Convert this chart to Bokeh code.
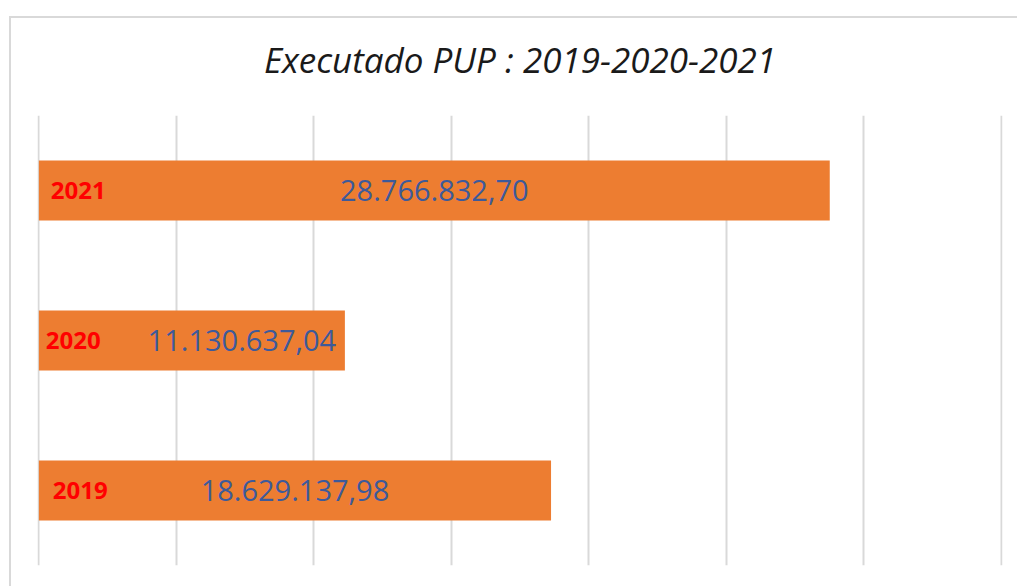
from bokeh.plotting import figure
from bokeh.models import ColumnDataSource, FactorRange, Range1d, FixedTicker
from bokeh.core.properties import value
from bokeh.embed import file_html
from bokeh.resources import INLINE

# ---- data ----
years = ["2019", "2020", "2021"]
values = [18629137.98, 11130637.04, 28766832.70]
value_labels = ["18.629.137,98", "11.130.637,04", "28.766.832,70"]
x_ticks = [0, 5e6, 10e6, 15e6, 20e6, 25e6, 30e6, 35e6]
title_text = "Executado PUP : 2019-2020-2021"

# ---- styling (pixel offsets for labels) ----
year_dx = [14, 7, 12]
value_dx = [0, 50, 0]

FONT = "Open Sans"
BORDER = "#D9D9D9"

src = ColumnDataSource(dict(
    year=years,
    val=values,
    half=[v / 2 for v in values],
    zero=[0] * len(values),
    vlab=value_labels,
    ydx=year_dx,
    vdx=value_dx,
))

pad = 0.05e6
p = figure(
    width=1017, height=586,
    y_range=FactorRange(factors=years, range_padding=0),
    x_range=Range1d(x_ticks[0] - pad, x_ticks[-1] + pad),
    output_backend="svg",
    toolbar_location=None,
    min_border_left=37, min_border_right=15,
    min_border_top=115, min_border_bottom=21,
)
# chart-area border (left and top edges visible) drawn behind a transparent canvas
p.border_fill_color = None
p.background_fill_color = "white"
p.styles = {
    "background": (
        f"linear-gradient({BORDER},{BORDER}) 9px 16px / 2px 570px no-repeat, "
        f"linear-gradient({BORDER},{BORDER}) 9px 16px / 1008px 2px no-repeat, "
        "#ffffff"
    ),
}

p.title.text = title_text
p.title.align = "center"
p.title.text_font = FONT
p.title.text_font_style = "italic"
p.title.text_font_size = "35px"
p.title.text_color = "#1a1a1a"
p.title.standoff = 66

p.xaxis.visible = False
p.yaxis.visible = False
p.ygrid.grid_line_color = None
p.xgrid.ticker = FixedTicker(ticks=x_ticks)
p.xgrid.grid_line_color = "#D9D9D9"
p.xgrid.grid_line_width = 2
p.outline_line_color = None

p.hbar(y="year", right="val", left=0, height=0.4, source=src,
       fill_color="#ED7D31", line_color=None)

p.text(x="zero", y="year", text="year", source=src, x_offset="ydx",
       text_align="left", text_baseline="middle",
       text_font=value(FONT), text_font_style="bold",
       text_font_size="24px", text_color="#FF0000")

p.text(x="half", y="year", text="vlab", source=src, x_offset="vdx",
       text_align="center", text_baseline="middle",
       text_font=value(FONT), text_font_size="29px", text_color="#3D5A9A")

open("out.html", "w").write(file_html(p, INLINE))
